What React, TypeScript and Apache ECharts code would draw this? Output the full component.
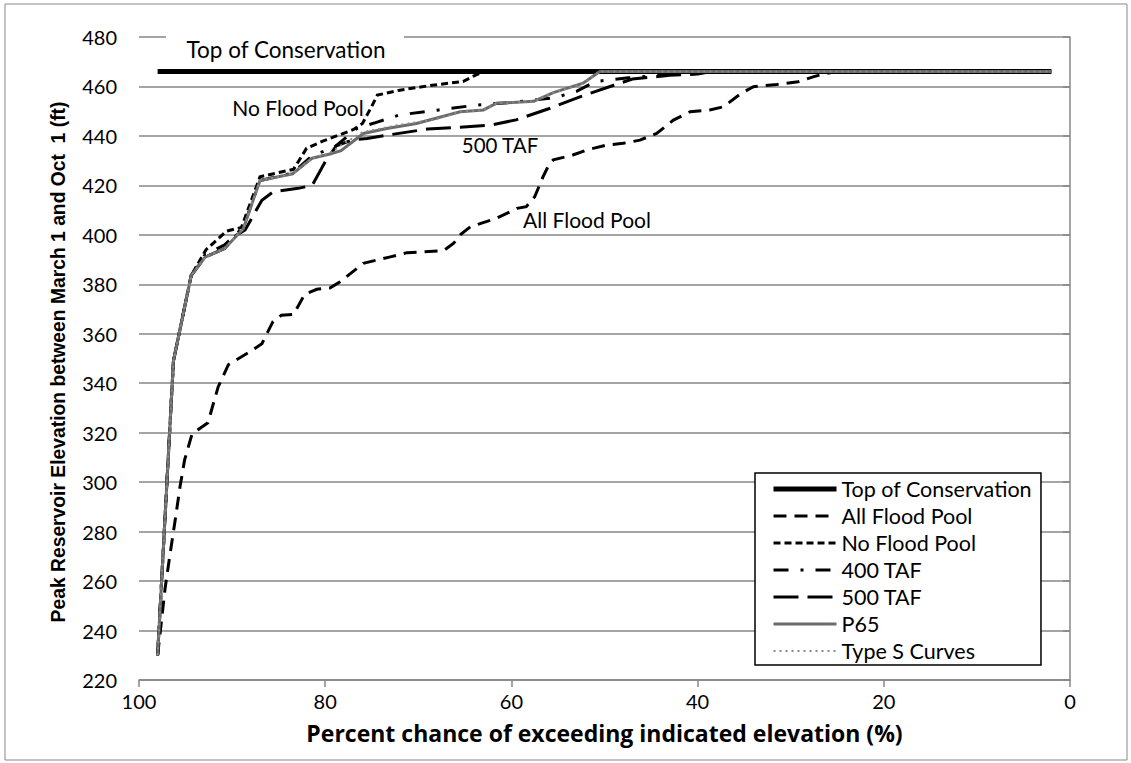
import React, { useEffect, useRef } from "react";
import * as echarts from "echarts";

// Exceedance curves: [percent chance of exceeding, peak elevation (ft)]
const topOfConservation: number[][] = [
  [98, 466], [2, 466],
];

const allFloodPool: number[][] = [
  [98, 230], [97.7, 240], [97.2, 257], [96.7, 270], [96.1, 285], [95.6, 298],
  [95.1, 309], [94.3, 319.5], [92.6, 324], [91.5, 338.5], [90.4, 347.5],
  [88.1, 352.7], [86.8, 356], [85.6, 365], [84.7, 367.5], [83.4, 367.8],
  [82.2, 376], [80.9, 378], [79.5, 378.5], [78.4, 381], [75.9, 388.5],
  [73, 391.1], [71.2, 392.8], [67.3, 393.6], [66.2, 396.6], [65.5, 400],
  [64.4, 403.3], [61.6, 406.7], [59.4, 410.7], [58.4, 411.4], [57.5, 415.4],
  [56.6, 423.5], [55.9, 428.9], [55.5, 430.3], [53.4, 432.3], [51.9, 434.3],
  [49.8, 436.3], [48, 437], [46.2, 438.3], [44.4, 441], [42.6, 446.4],
  [40.8, 449.8], [38.7, 450.5], [37.2, 451.8], [35.4, 457], [34, 459.9],
  [31.5, 460.8], [29.2, 461.9], [27.6, 463.9], [26.3, 465.2], [25, 466],
  [2, 466],
];

const noFloodPool: number[][] = [
  [98, 230], [96.3, 349], [94.4, 383.5], [92.8, 394], [90.6, 401.5],
  [89, 403], [87, 423.5], [83.4, 426.5], [82, 435], [80.2, 438],
  [77, 442.5], [76, 445], [75, 452], [74.4, 456.5], [72, 458.5],
  [68.5, 460.5], [65.2, 462], [63.9, 464.5], [63, 466], [2, 466],
];

const taf400: number[][] = [
  [98, 230], [96.3, 349], [94.4, 383.5], [92.9, 392], [90.8, 396],
  [88.8, 403], [87, 422], [83.5, 425], [81.4, 432], [79, 435.5],
  [76.6, 443], [74.5, 445.5], [72, 448.5], [67.8, 450.5], [63.7, 452.5],
  [60, 453.5], [55.3, 455.5], [53, 458], [51, 462], [47.4, 463.5],
  [44, 464.5], [42, 466], [2, 466],
];

const taf500: number[][] = [
  [98, 230], [96.3, 349], [94.4, 383.5], [92.9, 391], [90.8, 394.5],
  [89.5, 400], [88.6, 402], [86.8, 414], [85.6, 417.4], [82.9, 418.8],
  [81.4, 420], [80, 429.5], [78.8, 436], [77, 438.5], [75.5, 439],
  [73, 440.5], [69, 442.8], [65.5, 443.5], [62, 444.5], [59.5, 446.5],
  [56, 451], [52.5, 456], [49, 460.5], [47, 463], [43, 464.5], [40, 465],
  [38.5, 466], [2, 466],
];

const p65: number[][] = [
  [98, 230], [96.3, 349], [94.4, 383.5], [92.9, 391], [90.8, 394.5],
  [88.8, 402.5], [87, 422], [83.5, 424.7], [81.4, 431], [79.5, 432.7],
  [78.3, 434], [75.9, 441], [73.4, 443], [70.2, 445], [65.5, 449.8],
  [63, 450.5], [61.6, 453.2], [57.6, 454], [55.5, 457.5], [52.3, 461.3],
  [50.5, 466], [2, 466],
];

const typeSCurves: number[][] = [
  [98, 230], [96.3, 349], [94.4, 383.5], [92.9, 391], [90.8, 394.5],
  [88.8, 402.5], [87, 422], [83.5, 424.7], [81.4, 431], [79.5, 433],
  [78.4, 436], [76, 441.5], [72, 444.5], [68.4, 446.5], [65.5, 449.8],
  [63, 450.5], [61.6, 453.2], [57.6, 454], [55.5, 457.5], [52.3, 461.3],
  [50.5, 466], [2, 466],
];

const seriesNames = [
  "Top of Conservation",
  "All Flood Pool",
  "No Flood Pool",
  "400 TAF",
  "500 TAF",
  "P65",
  "Type S Curves",
];

// Axis ranges (x axis runs from 100 down to 0)
const xRange = [0, 100, 20];
const yRange = [220, 480, 20];

const FONT = "Lato, 'Open Sans', sans-serif";
const AXIS_GREY = "#878787";

type Dash = "solid" | number[];

// Line look for each curve: colour, width, dash pattern
const styles: { color: string; width: number; dash: Dash }[] = [
  { color: "#000000", width: 5, dash: "solid" },
  { color: "#000000", width: 3, dash: [13, 8] },
  { color: "#000000", width: 3, dash: [7, 4] },
  { color: "#000000", width: 3, dash: [15, 12, 3, 12] },
  { color: "#000000", width: 3, dash: [25, 9] },
  { color: "#6b6b6b", width: 3, dash: "solid" },
  { color: "#8a8a8a", width: 2, dash: [2, 4] },
];

const curves = [topOfConservation, allFloodPool, noFloodPool, taf400, taf500, p65, typeSCurves];

export default function App() {
  const ref = useRef<HTMLDivElement>(null);

  useEffect(() => {
    if (!ref.current) return;
    const chart = echarts.init(ref.current, undefined, { renderer: "svg" });

    const text = (s: string, x: number, y: number, size: number) => ({
      type: "text",
      silent: true,
      z: 11,
      x,
      y,
      style: {
        text: s,
        fontFamily: FONT,
        fontSize: size,
        fill: "#000",
        align: "center",
        verticalAlign: "middle",
      },
    });

    chart.setOption({
      animation: false,
      backgroundColor: "#ffffff",
      grid: { left: 139, right: 61, top: 37, bottom: 83, containLabel: false },
      xAxis: {
        type: "value",
        inverse: true,
        min: xRange[0],
        max: xRange[1],
        interval: xRange[2],
        name: "Percent chance of exceeding indicated elevation (%)",
        nameLocation: "middle",
        nameGap: 41,
        nameTextStyle: {
          fontFamily: "'Open Sans', Lato, sans-serif",
          fontWeight: "bold",
          fontSize: 23,
          color: "#000",
        },
        axisLine: { show: true, lineStyle: { color: AXIS_GREY, width: 1.5 } },
        axisTick: { show: true, length: 7, inside: false, lineStyle: { color: AXIS_GREY, width: 1.5 } },
        axisLabel: { fontFamily: FONT, fontSize: 20, color: "#000", margin: 11 },
        splitLine: { show: false },
      },
      yAxis: {
        type: "value",
        min: yRange[0],
        max: yRange[1],
        interval: yRange[2],
        axisLine: { show: true, lineStyle: { color: AXIS_GREY, width: 1.5 } },
        axisTick: { show: true, length: 7, lineStyle: { color: AXIS_GREY, width: 1.5 } },
        axisLabel: { fontFamily: FONT, fontSize: 20, color: "#000", margin: 22 },
        splitLine: { show: true, lineStyle: { color: AXIS_GREY, width: 1.5 } },
      },
      legend: {
        orient: "vertical",
        left: 755,
        top: 473,
        padding: [5, 9, 3, 16],
        itemGap: 5,
        itemWidth: 63,
        itemHeight: 14,
        backgroundColor: "#ffffff",
        borderColor: "#000000",
        borderWidth: 1.5,
        borderRadius: 0,
        selectedMode: false,
        data: seriesNames.map((name, i) => ({
          name,
          itemStyle: { opacity: 0 },
          lineStyle: { width: styles[i].width, type: styles[i].dash, color: styles[i].color },
        })),
        textStyle: { fontFamily: FONT, fontSize: 21.5, color: "#000", lineHeight: 22 },
      },
      graphic: [
        {
          type: "rect",
          silent: true,
          z: -1,
          shape: { x: 5, y: 4, width: 1122, height: 756 },
          style: { fill: "none", stroke: AXIS_GREY, lineWidth: 1 },
        },
        {
          type: "rect",
          silent: true,
          z: 10,
          shape: { x: 166, y: 30, width: 238, height: 36 },
          style: { fill: "#ffffff" },
        },
        text("Top of Conservation", 286, 49, 22.5),
        text("No Flood Pool", 298, 107, 21),
        text("500 TAF", 500, 145, 20.5),
        text("All Flood Pool", 587, 219, 21),
        {
          type: "text",
          silent: true,
          z: 11,
          x: 58,
          y: 362,
          rotation: Math.PI / 2,
          style: {
            text: "Peak Reservoir Elevation between March 1 and Oct  1 (ft)",
            fontFamily: "'Liberation Sans', Arial, sans-serif",
            fontWeight: "bold",
            fontSize: 19.3,
            fill: "#000",
            align: "center",
            verticalAlign: "middle",
          },
        },
      ],
      series: seriesNames.map((name, i) => ({
        name,
        type: "line",
        data: curves[i],
        showSymbol: false,
        symbol: "none",
        lineStyle: {
          color: styles[i].color,
          width: styles[i].width,
          type: styles[i].dash,
          cap: "butt",
          join: "miter",
        },
        itemStyle: { color: styles[i].color },
        emphasis: { disabled: true },
        silent: true,
      })),
    });

    return () => chart.dispose();
  }, []);

  return (
    <div
      ref={ref}
      style={{ position: "fixed", left: 0, top: 0, width: 1131, height: 763 }}
    />
  );
}
